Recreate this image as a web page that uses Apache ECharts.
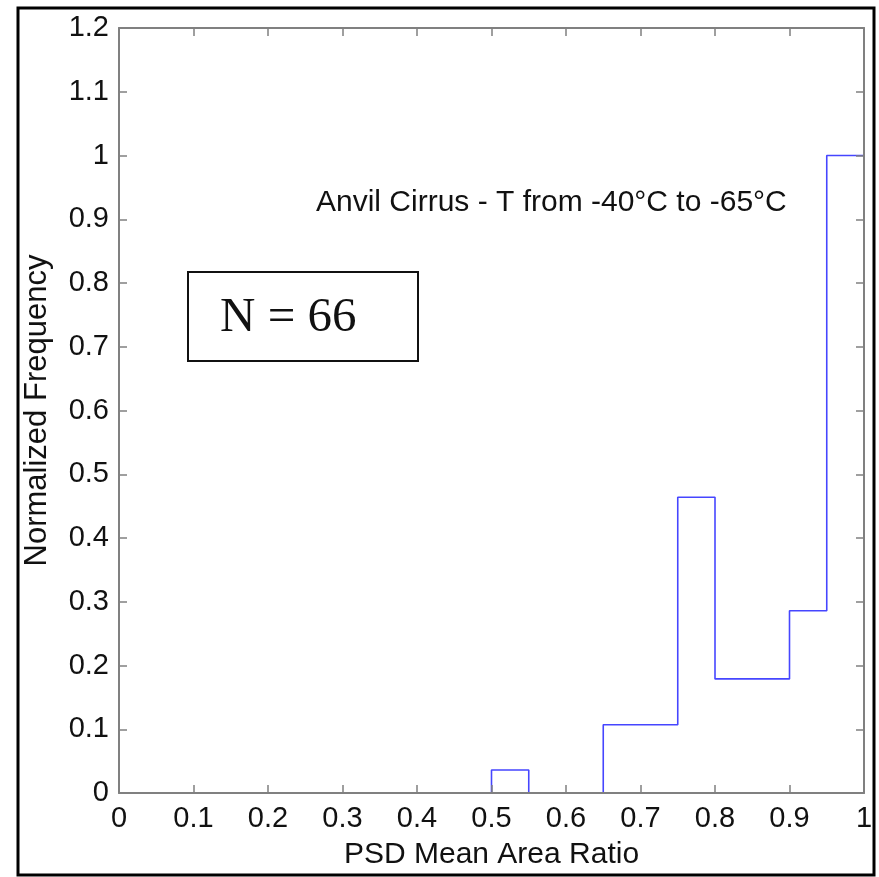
<!DOCTYPE html>
<html>
<head>
<meta charset="utf-8">
<script src="https://cdn.jsdelivr.net/npm/echarts@6/dist/echarts.min.js"></script>
<style>
html,body{margin:0;padding:0;background:#fff;}
#chart{width:879px;height:877px;}
</style>
</head>
<body>
<div id="chart"></div>
<script>
// Histogram bins (left edges), width 0.05
const binWidth = 0.05;
const binLeft = [0.00,0.05,0.10,0.15,0.20,0.25,0.30,0.35,0.40,0.45,
                 0.50,0.55,0.60,0.65,0.70,0.75,0.80,0.85,0.90,0.95];
const normFreq = [0,0,0,0,0,0,0,0,0,0,
                  0.036,0,0,0.107,0.107,0.464,0.179,0.179,0.286,1.0];
const xTickLabels = ['0','0.1','0.2','0.3','0.4','0.5','0.6','0.7','0.8','0.9','1'];
const yTickLabels = ['0','0.1','0.2','0.3','0.4','0.5','0.6','0.7','0.8','0.9','1','1.1','1.2'];
const annotationText = 'Anvil Cirrus - T from -40\u00B0C to -65\u00B0C';
const countText = 'N = 66';

// stairs outline
const stairs = [];
for (let i = 0; i < binLeft.length; i++) {
  stairs.push([binLeft[i], normFreq[i]]);
  stairs.push([binLeft[i] + binWidth, normFreq[i]]);
}
stairs.push([binLeft[binLeft.length-1] + binWidth, 0]);

const axisGrey = '#808080';
const font = 'Liberation Sans, Arial, sans-serif';
const xLab = v => xTickLabels[Math.round(v * 10)] ?? '';
const yLab = v => yTickLabels[Math.round(v * 10)] ?? '';

function axisCommon() {
  return {
    axisLine: {show: true, onZero: false, lineStyle: {color: axisGrey, width: 2}},
    axisTick: {show: true, inside: true, length: 8, lineStyle: {color: axisGrey, width: 1.5}},
    splitLine: {show: false},
    z: 5
  };
}

const chart = echarts.init(document.getElementById('chart'), null, {renderer: 'canvas'});
chart.setOption({
  animation: false,
  backgroundColor: '#fff',
  grid: {left: 119, right: 15, top: 28, bottom: 84, containLabel: false},
  xAxis: [
    Object.assign(axisCommon(), {
      type: 'value', min: 0, max: 1, interval: 0.1, position: 'bottom',
      name: 'PSD Mean Area Ratio', nameLocation: 'middle', nameGap: 47,
      nameTextStyle: {fontFamily: font, fontSize: 30, color: '#111'},
      axisLabel: {formatter: xLab, margin: 11, fontFamily: font, fontSize: 29, color: '#111'}
    }),
    Object.assign(axisCommon(), {
      type: 'value', min: 0, max: 1, interval: 0.1, position: 'top',
      axisLabel: {show: false}
    })
  ],
  yAxis: [
    Object.assign(axisCommon(), {
      type: 'value', min: 0, max: 1.2, interval: 0.1, position: 'left',
      name: 'Normalized Frequency', nameLocation: 'middle', nameGap: 66,
      nameTextStyle: {fontFamily: font, fontSize: 31, color: '#111'},
      axisLabel: {formatter: yLab, margin: 10, fontFamily: font, fontSize: 29, color: '#111'}
    }),
    Object.assign(axisCommon(), {
      type: 'value', min: 0, max: 1.2, interval: 0.1, position: 'right',
      axisLabel: {show: false}
    })
  ],
  series: [{
    type: 'line',
    data: stairs,
    showSymbol: false,
    symbol: 'none',
    lineStyle: {color: '#4646ff', width: 1.6},
    z: 2
  }],
  graphic: [
    {
      type: 'rect', silent: true, z: 100,
      shape: {x: 18, y: 8, width: 856, height: 867},
      style: {fill: 'none', stroke: '#000', lineWidth: 3}
    },
    {
      type: 'rect', silent: true, z: 100,
      shape: {x: 188, y: 272, width: 230, height: 89},
      style: {fill: '#fff', stroke: '#111', lineWidth: 2}
    },
    {
      type: 'text', silent: true, z: 101, x: 220, y: 318,
      style: {text: countText, font: '49px "Liberation Serif", "Times New Roman", serif',
              fill: '#111', verticalAlign: 'middle', align: 'left'}
    },
    {
      type: 'text', silent: true, z: 101, x: 316, y: 203,
      style: {text: annotationText, font: '30px "Liberation Sans", Arial, sans-serif',
              fill: '#111', verticalAlign: 'middle', align: 'left'}
    }
  ]
});
</script>
</body>
</html>
